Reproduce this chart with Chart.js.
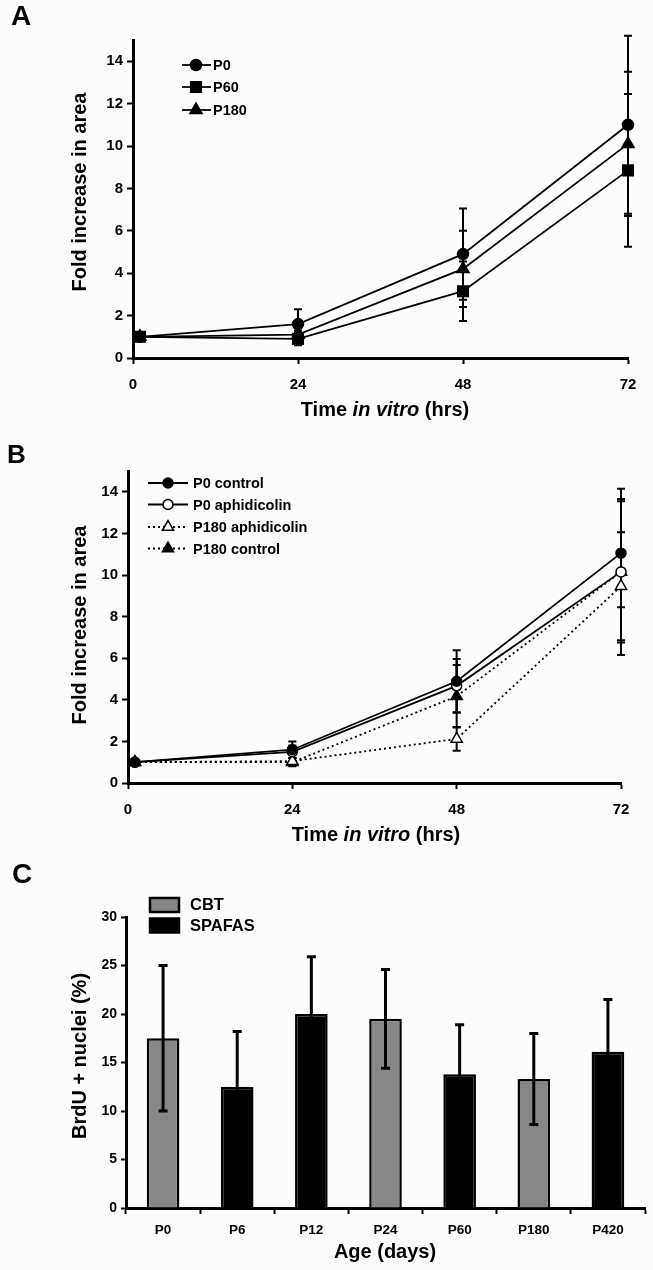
<!DOCTYPE html>
<html><head><meta charset="utf-8">
<script src="https://cdn.jsdelivr.net/npm/chart.js@4.4.0/dist/chart.umd.min.js"></script>
<style>
html,body{margin:0;padding:0;background:#fcfcfc;}
.p{position:absolute;left:0;width:653px;}
</style></head><body>
<div class="p" style="top:0;height:420px"><canvas id="cA"></canvas></div>
<div class="p" style="top:420px;height:430px"><canvas id="cB"></canvas></div>
<div class="p" style="top:850px;height:420px"><canvas id="cC"></canvas></div>
<script>
// ---------- Panel A data ----------
const timesA = [1, 24, 48, 72];
const p0A = [1.0, 1.6, 4.9, 11.0];
const p0AErr = [0, 0.7, 2.15, 4.2];
const p60A = [1.0, 0.9, 3.15, 8.85];
const p60AErr = [0, 0.3, 1.4, 3.6];
const p180A = [1.0, 1.1, 4.2, 10.1];
const p180AErr = [0, 0.2, 1.8, 3.4];

// ---------- Panel B data ----------
const timesB = [1, 24, 48, 72];
const p0CtrlB = [1.0, 1.6, 4.89, 11.05];
const p0CtrlBErr = [0, 0.4, 1.49, 2.6];
const p0AphB = [1.0, 1.5, 4.67, 10.15];
const p0AphBErr = [0, 0.3, 1.29, 3.4];
const p180AphB = [1.0, 1.05, 2.12, 9.46];
const p180AphBErr = [0, 0.15, 0.57, 2.6];
const p180CtrlB = [1.0, 1.0, 4.17, 10.15];
const p180CtrlBErr = [0, 0.2, 1.5, 4.0];

// ---------- Panel C data ----------
const ageLabels = ['P0', 'P6', 'P12', 'P24', 'P60', 'P180', 'P420'];
const cbtVals = [17.5, null, null, 19.5, null, 13.3, null];
const cbtErr = [7.5, null, null, 5.1, null, 4.7, null];
const spafasVals = [null, 12.5, 20.0, null, 13.8, null, 16.1];
const spafasErr = [null, 5.7, 5.9, null, 5.1, null, 5.4];

const FONT = "'Liberation Sans', Arial, Helvetica, sans-serif";
Chart.defaults.font.family = FONT;
Chart.defaults.font.weight = 'bold';
Chart.defaults.color = '#000';

function pts(xs, ys) { return xs.map((x, i) => ({ x: x, y: ys[i] })); }

function drawMarker(ctx, style, x, y, r, fill) {
  ctx.save();
  ctx.fillStyle = fill; ctx.strokeStyle = '#000'; ctx.lineWidth = 1.5;
  ctx.beginPath();
  if (style === 'circle') { ctx.arc(x, y, r, 0, Math.PI * 2); }
  else if (style === 'rect') { const s = Math.SQRT1_2 * r; ctx.rect(x - s, y - s, 2 * s, 2 * s); }
  else if (style === 'triangle') {
    let a = 0;
    ctx.moveTo(x + Math.sin(a) * r, y - Math.cos(a) * r); a += 2 * Math.PI / 3;
    ctx.lineTo(x + Math.sin(a) * r, y - Math.cos(a) * r); a += 2 * Math.PI / 3;
    ctx.lineTo(x + Math.sin(a) * r, y - Math.cos(a) * r); ctx.closePath();
  }
  ctx.fill(); ctx.stroke(); ctx.restore();
}

function mixedText(ctx, parts, cx, cy, size) {
  ctx.save();
  ctx.textBaseline = 'middle'; ctx.fillStyle = '#000';
  let total = 0;
  parts.forEach(p => { ctx.font = (p.i ? 'italic ' : '') + 'bold ' + size + 'px ' + FONT; total += ctx.measureText(p.t).width; });
  let x = cx - total / 2;
  ctx.textAlign = 'left';
  parts.forEach(p => { ctx.font = (p.i ? 'italic ' : '') + 'bold ' + size + 'px ' + FONT; ctx.fillText(p.t, x, cy); x += ctx.measureText(p.t).width; });
  ctx.restore();
}
function vText(ctx, t, cx, cy, size) {
  ctx.save(); ctx.translate(cx, cy); ctx.rotate(-Math.PI / 2);
  ctx.font = 'bold ' + size + 'px ' + FONT; ctx.textAlign = 'center'; ctx.textBaseline = 'middle'; ctx.fillStyle = '#000';
  ctx.fillText(t, 0, 0); ctx.restore();
}
function label(ctx, t, x, y, size) {
  ctx.save(); ctx.font = 'bold ' + size + 'px ' + FONT; ctx.textAlign = 'left'; ctx.textBaseline = 'alphabetic'; ctx.fillStyle = '#000';
  ctx.fillText(t, x, y); ctx.restore();
}

// error bars drawn through the y scale
function errorPlugin(hook) {
  const p = { id: 'err' + hook };
  p[hook] = function (chart) {
    const ctx = chart.ctx, ys = chart.scales.y;
    chart.data.datasets.forEach((ds, i) => {
      if (!ds.errors) return;
      const meta = chart.getDatasetMeta(i);
      ctx.save(); ctx.strokeStyle = '#000'; ctx.lineWidth = ds.errLine || 2; ctx.lineCap = 'butt';
      meta.data.forEach((el, j) => {
        const e = ds.errors[j]; if (!e) return;
        const raw = ds.data[j]; const v = (raw && typeof raw === 'object') ? raw.y : raw;
        if (v == null) return;
        const x = el.x, yt = ys.getPixelForValue(v + e), yb = ys.getPixelForValue(v - e), c = ds.cap || 4;
        ctx.beginPath();
        ctx.moveTo(x, yt); ctx.lineTo(x, yb);
        ctx.moveTo(x - c, yt); ctx.lineTo(x + c, yt);
        ctx.moveTo(x - c, yb); ctx.lineTo(x + c, yb);
        ctx.stroke();
      });
      ctx.restore();
    });
  };
  return p;
}

function axisCommon(extra) {
  return Object.assign({
    grid: { drawOnChartArea: false, drawTicks: true, tickLength: 6, tickWidth: 2, tickColor: '#000' },
    border: { display: true, color: '#000', width: 3 }
  }, extra);
}

function lineDs(label, xs, ys, errs, style, fill, dashed, r) {
  return {
    label: label, data: pts(xs, ys), errors: errs, clip: false,
    borderColor: '#000', borderWidth: 1.8, borderDash: dashed ? [2, 3] : [],
    pointStyle: style, pointRadius: r, pointHoverRadius: r,
    pointBackgroundColor: fill, pointBorderColor: '#000', pointBorderWidth: 1.5,
    tension: 0, fill: false, cap: 4, errLine: 2
  };
}

function lineOptions(area, canvasH) {
  return {
    responsive: true, maintainAspectRatio: false, animation: false,
    layout: { padding: { left: 0, right: 653 - area.right, top: area.top, bottom: 0 } },
    plugins: { legend: { display: false }, tooltip: { enabled: false } },
    scales: {
      x: axisCommon({ type: 'linear', min: 0, max: 72,
        ticks: { stepSize: 24, padding: 12, font: { size: 15, weight: 'bold' }, color: '#000' },
        afterFit: s => { s.height = canvasH - area.bottom; } }),
      y: axisCommon({ min: 0, max: 15,
        ticks: { stepSize: 2, includeBounds: false, padding: 4, font: { size: 15, weight: 'bold' }, color: '#000' },
        afterFit: s => { s.width = area.left; } })
    }
  };
}

// ---------- Chart A ----------
const areaA = { left: 133, right: 628, top: 40, bottom: 358 };
new Chart(document.getElementById('cA'), {
  type: 'line',
  data: { datasets: [
    lineDs('P0', timesA, p0A, p0AErr, 'circle', '#000', false, 5.5),
    lineDs('P60', timesA, p60A, p60AErr, 'rect', '#000', false, 7.5),
    lineDs('P180', timesA, p180A, p180AErr, 'triangle', '#000', false, 7)
  ] },
  options: lineOptions(areaA, 420),
  plugins: [errorPlugin('beforeDatasetsDraw'), {
    id: 'decoA', afterDraw(chart) {
      const ctx = chart.ctx;
      label(ctx, 'A', 11, 25, 28);
      vText(ctx, 'Fold increase in area', 80, 192, 20);
      mixedText(ctx, [{ t: 'Time ' }, { t: 'in vitro', i: true }, { t: ' (hrs)' }], 385, 410, 20);
      const rows = [['P0', 'circle', 5.5, 65], ['P60', 'rect', 7.5, 87], ['P180', 'triangle', 7, 110]];
      rows.forEach(r => {
        ctx.save(); ctx.strokeStyle = '#000'; ctx.lineWidth = 1.8;
        ctx.beginPath(); ctx.moveTo(182, r[3]); ctx.lineTo(211, r[3]); ctx.stroke(); ctx.restore();
        drawMarker(ctx, r[1], 196, r[3], r[2], '#000');
        ctx.save(); ctx.font = 'bold 14.5px ' + FONT; ctx.textBaseline = 'middle'; ctx.fillStyle = '#000';
        ctx.fillText(r[0], 213, r[3] + 1); ctx.restore();
      });
    }
  }]
});

// ---------- Chart B ----------
const areaB = { left: 128, right: 621, top: 51, bottom: 363 };
new Chart(document.getElementById('cB'), {
  type: 'line',
  data: { datasets: [
    lineDs('P0 control', timesB, p0CtrlB, p0CtrlBErr, 'circle', '#000', false, 5),
    lineDs('P0 aphidicolin', timesB, p0AphB, p0AphBErr, 'circle', '#fff', false, 5),
    lineDs('P180 aphidicolin', timesB, p180AphB, p180AphBErr, 'triangle', '#fff', true, 6.5),
    lineDs('P180 control', timesB, p180CtrlB, p180CtrlBErr, 'triangle', '#000', true, 6.5)
  ] },
  options: lineOptions(areaB, 430),
  plugins: [errorPlugin('beforeDatasetsDraw'), {
    id: 'decoB', afterDraw(chart) {
      const ctx = chart.ctx;
      label(ctx, 'B', 7, 43, 26);
      vText(ctx, 'Fold increase in area', 80, 205, 20);
      mixedText(ctx, [{ t: 'Time ' }, { t: 'in vitro', i: true }, { t: ' (hrs)' }], 376, 415, 20);
      const rows = [['P0 control', 'circle', 5, '#000', false, 63],
                    ['P0 aphidicolin', 'circle', 5, '#fff', false, 84.5],
                    ['P180 aphidicolin', 'triangle', 6.5, '#fff', true, 107],
                    ['P180 control', 'triangle', 6.5, '#000', true, 128.5]];
      rows.forEach(r => {
        ctx.save(); ctx.strokeStyle = '#000'; ctx.lineWidth = 1.8; ctx.setLineDash(r[4] ? [2, 3] : []);
        ctx.beginPath(); ctx.moveTo(148, r[5]); ctx.lineTo(188, r[5]); ctx.stroke(); ctx.restore();
        drawMarker(ctx, r[1], 168, r[5], r[2], r[3]);
        ctx.save(); ctx.font = 'bold 14.5px ' + FONT; ctx.textBaseline = 'middle'; ctx.fillStyle = '#000';
        ctx.fillText(r[0], 193, r[5] + 1); ctx.restore();
      });
    }
  }]
});

// ---------- Chart C ----------
const areaC = { left: 126, right: 645, top: 67, bottom: 358 };
const GRAY = '#878787', BLACK = '#000000';
new Chart(document.getElementById('cC'), {
  type: 'bar',
  data: { labels: ageLabels, datasets: [
    { label: 'CBT', data: cbtVals, errors: cbtErr, backgroundColor: GRAY, borderColor: '#000', borderWidth: 2.5,
      barPercentage: 0.44, categoryPercentage: 1, grouped: false, cap: 4.5, errLine: 3 },
    { label: 'SPAFAS', data: spafasVals, errors: spafasErr, backgroundColor: BLACK, borderColor: '#000', borderWidth: 2.5,
      barPercentage: 0.44, categoryPercentage: 1, grouped: false, cap: 4.5, errLine: 3 }
  ] },
  options: {
    responsive: true, maintainAspectRatio: false, animation: false,
    layout: { padding: { left: 0, right: 653 - areaC.right, top: areaC.top, bottom: 0 } },
    plugins: { legend: { display: false }, tooltip: { enabled: false } },
    scales: {
      x: axisCommon({ type: 'category', offset: true,
        grid: { offset: true, drawOnChartArea: false, drawTicks: true, tickLength: 6, tickWidth: 2, tickColor: '#000' },
        ticks: { padding: 8, font: { size: 13.5, weight: 'bold' }, color: '#000' },
        afterFit: s => { s.height = 420 - areaC.bottom; } }),
      y: axisCommon({ min: 0, max: 30,
        grid: { drawOnChartArea: false, drawTicks: true, tickLength: 5, tickWidth: 2, tickColor: '#000' },
        ticks: { stepSize: 5, padding: 4, font: { size: 14, weight: 'bold' }, color: '#000' },
        afterFit: s => { s.width = areaC.left; } })
    }
  },
  plugins: [errorPlugin('afterDatasetsDraw'), {
    id: 'decoC', afterDraw(chart) {
      const ctx = chart.ctx;
      label(ctx, 'C', 12, 33, 28);
      vText(ctx, 'BrdU + nuclei (%)', 80, 206, 20);
      mixedText(ctx, [{ t: 'Age (days)' }], 385, 402, 20);
      const rows = [['CBT', GRAY, 48], ['SPAFAS', BLACK, 68.5]];
      rows.forEach(r => {
        ctx.save(); ctx.fillStyle = r[1]; ctx.strokeStyle = '#000'; ctx.lineWidth = 2.5;
        ctx.fillRect(150, r[2], 29, 14); ctx.strokeRect(150, r[2], 29, 14);
        ctx.font = 'bold 16.5px ' + FONT; ctx.textBaseline = 'middle'; ctx.fillStyle = '#000';
        ctx.fillText(r[0], 190, r[2] + 7.5); ctx.restore();
      });
    }
  }]
});
</script>
</body></html>
